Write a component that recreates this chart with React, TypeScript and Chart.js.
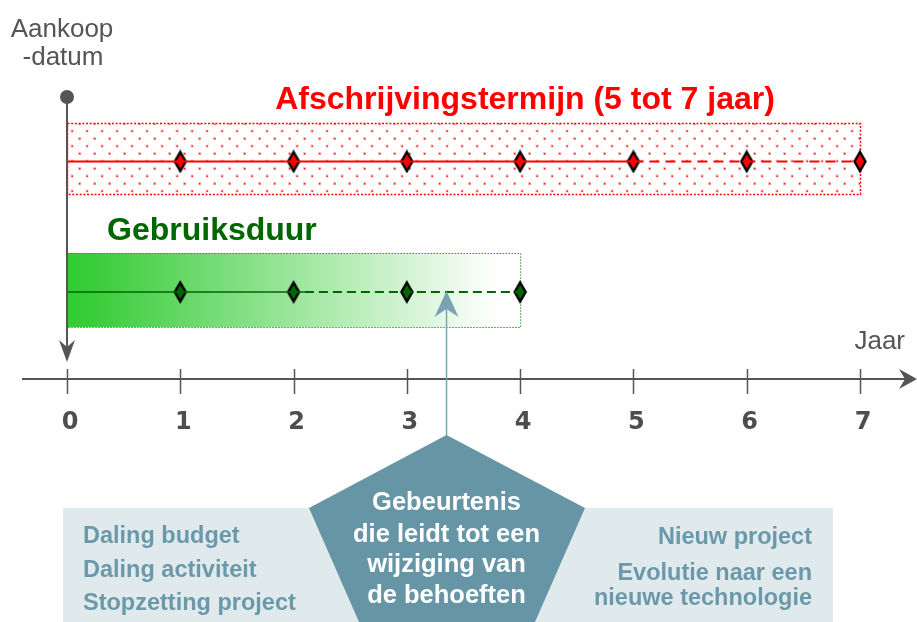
import React, { useEffect, useRef } from "react";
import { Chart, registerables } from "chart.js";
Chart.register(...registerables);

// ---- data ----
const TICK_YEARS = [0, 1, 2, 3, 4, 5, 6, 7];
const TICK_LABELS = ["0", "1", "2", "3", "4", "5", "6", "7"];
const DEPRECIATION_SOLID = [0, 5];
const DEPRECIATION_DASHED = [5, 7];
const DEPRECIATION_MARKERS = [1, 2, 3, 4, 5, 6, 7];
const DEPRECIATION_BOX = [0, 7];
const USEFUL_SOLID = [0, 2.1];
const USEFUL_DASHED = [2.1, 4];
const USEFUL_MARKERS = [1, 2, 3, 4];
const USEFUL_BOX = [0, 4];
const EVENT_YEAR = 3.35;
const LANE_AXIS = 0;
const LANE_USEFUL = 1;
const LANE_DEPRECIATION = 2.5;

const TITLE_DEPRECIATION = "Afschrijvingstermijn (5 tot 7 jaar)";
const TITLE_USEFUL = "Gebruiksduur";
const START_LABEL = ["Aankoop", "-datum"];
const AXIS_LABEL = "Jaar";
const EVENT_LABEL = ["Gebeurtenis", "die leidt tot een", "wijziging van", "de behoeften"];
const DECREASE_CAUSES = ["Daling budget", "Daling activiteit", "Stopzetting project"];
const CHANGE_CAUSES = ["Nieuw project", "Evolutie naar een", "nieuwe technologie"];

const FONT = "'Liberation Sans', Arial, sans-serif";
const GRAY = "#555555";
const RED = "#ff0000";
const DKGREEN = "#006600";
const TEAL = "#6696a6";
const TEAL_TEXT = "#6b99aa";
const PANEL = "#e0eaed";

function diamond(fill: string) {
  const c = document.createElement("canvas");
  c.width = 16;
  c.height = 24;
  const g = c.getContext("2d")!;
  g.beginPath();
  g.moveTo(8, 2.5);
  g.lineTo(13.5, 12);
  g.lineTo(8, 21.5);
  g.lineTo(2.5, 12);
  g.closePath();
  g.fillStyle = fill;
  g.fill();
  g.lineWidth = 2.4;
  g.strokeStyle = "#000";
  g.stroke();
  return c;
}

function dotPattern(ctx: CanvasRenderingContext2D) {
  const p = document.createElement("canvas");
  p.width = 15;
  p.height = 15;
  const g = p.getContext("2d")!;
  g.fillStyle = "rgba(255,0,0,0.25)";
  g.fillRect(3, 2, 3, 3);
  g.fillRect(10.5, 9.5, 3, 3);
  g.fillStyle = "rgba(255,0,0,0.8)";
  g.fillRect(4, 3, 1.5, 1.5);
  g.fillRect(11.5, 10.5, 1.5, 1.5);
  return ctx.createPattern(p, "repeat")!;
}

function stealth(ctx: CanvasRenderingContext2D, tx: number, ty: number, dx: number, dy: number, len: number, hw: number, notch: number, color: string) {
  const nx = -dy, ny = dx;
  const bx = tx - dx * len, by = ty - dy * len;
  ctx.beginPath();
  ctx.moveTo(tx, ty);
  ctx.lineTo(bx + nx * hw, by + ny * hw);
  ctx.lineTo(tx - dx * (len - notch), ty - dy * (len - notch));
  ctx.lineTo(bx - nx * hw, by - ny * hw);
  ctx.closePath();
  ctx.fillStyle = color;
  ctx.fill();
}

const diagramPlugin = {
  id: "diagram",
  beforeDatasetsDraw(chart: any) {
    const { ctx, scales } = chart;
    const px = (v: number) => scales.x.getPixelForValue(v);
    const py = (v: number) => scales.y.getPixelForValue(v);
    ctx.save();
    // red depreciation box
    const rl = px(DEPRECIATION_BOX[0]), rr = px(DEPRECIATION_BOX[1]);
    const rc = py(LANE_DEPRECIATION);
    const rt = rc - 38, rb = rc + 33;
    ctx.fillStyle = dotPattern(ctx);
    ctx.fillRect(rl, rt, rr - rl, rb - rt);
    ctx.setLineDash([2, 1.7]);
    ctx.lineWidth = 1.5;
    ctx.strokeStyle = RED;
    ctx.strokeRect(rl + 0.5, rt, rr - rl, rb - rt);
    // green useful box
    const gl = px(USEFUL_BOX[0]), gr = px(USEFUL_BOX[1]);
    const gc = py(LANE_USEFUL);
    const gt = gc - 39, gb = gc + 35;
    const grad = ctx.createLinearGradient(gl, 0, gr, 0);
    grad.addColorStop(0, "#33cc33");
    grad.addColorStop(0.04, "#36cc36");
    grad.addColorStop(0.95, "#ffffff");
    grad.addColorStop(1, "#ffffff");
    ctx.fillStyle = grad;
    ctx.fillRect(gl, gt, gr - gl, gb - gt);
    ctx.setLineDash([1.5, 1.5]);
    ctx.lineWidth = 1;
    ctx.strokeStyle = "#2f9a2f";
    ctx.strokeRect(gl + 0.5, gt + 0.5, gr - gl, gb - gt);
    ctx.setLineDash([]);
    ctx.restore();
  },
  afterDatasetsDraw(chart: any) {
    const { ctx, scales } = chart;
    const px = (v: number) => scales.x.getPixelForValue(v);
    const py = (v: number) => scales.y.getPixelForValue(v);
    ctx.save();
    const x0 = px(0);
    const ay = py(LANE_AXIS);

    // start vertical line with dot and arrow
    ctx.strokeStyle = GRAY;
    ctx.lineWidth = 2;
    ctx.beginPath();
    ctx.moveTo(x0, 97);
    ctx.lineTo(x0, 350);
    ctx.stroke();
    ctx.beginPath();
    ctx.arc(x0, 97, 7, 0, Math.PI * 2);
    ctx.fillStyle = GRAY;
    ctx.fill();
    stealth(ctx, x0, ay - 17, 0, 1, 22, 8, 7, GRAY);

    // axis
    ctx.beginPath();
    ctx.moveTo(22, ay);
    ctx.lineTo(905, ay);
    ctx.stroke();
    stealth(ctx, 917, ay, 1, 0, 18, 10, 6, GRAY);
    ctx.lineWidth = 1.5;
    TICK_YEARS.forEach((v) => {
      const tx = Math.round(px(v)) + 0.5;
      ctx.beginPath();
      ctx.moveTo(tx, ay - 10);
      ctx.lineTo(tx, ay + 15);
      ctx.stroke();
    });
    ctx.fillStyle = "#4d4d4d";
    ctx.font = `bold 24px 'DejaVu Sans', Verdana, sans-serif`;
    ctx.textAlign = "center";
    ctx.textBaseline = "alphabetic";
    TICK_YEARS.forEach((v, i) => ctx.fillText(TICK_LABELS[i], px(v) + 3, ay + 50));

    // labels
    ctx.fillStyle = GRAY;
    ctx.font = `26px ${FONT}`;
    ctx.fillText(START_LABEL[0], 62, 37);
    ctx.fillText(START_LABEL[1], 63, 65);
    ctx.textAlign = "right";
    ctx.fillText(AXIS_LABEL, 905, 349);

    ctx.textAlign = "center";
    ctx.font = `bold 32px ${FONT}`;
    ctx.fillStyle = RED;
    ctx.fillText(TITLE_DEPRECIATION, 525, 109);
    ctx.textAlign = "left";
    ctx.fillStyle = DKGREEN;
    ctx.fillText(TITLE_USEFUL, 107, 240);

    // bottom panel
    ctx.fillStyle = PANEL;
    ctx.fillRect(63, 508, 770, 114);
    const ex = px(EVENT_YEAR);
    ctx.beginPath();
    ctx.moveTo(ex, 435);
    ctx.lineTo(585, 508);
    ctx.lineTo(535, 622);
    ctx.lineTo(359, 622);
    ctx.lineTo(309, 508);
    ctx.closePath();
    ctx.fillStyle = TEAL;
    ctx.fill();

    // event arrow
    ctx.strokeStyle = "#7aa3b2";
    ctx.lineWidth = 1.5;
    ctx.beginPath();
    ctx.moveTo(ex, 436);
    ctx.lineTo(ex, 305);
    ctx.stroke();
    stealth(ctx, ex, py(LANE_USEFUL) - 1, 0, -1, 26, 12, 8, "#7aa3b2");

    // texts in panel
    ctx.font = `bold 23.5px ${FONT}`;
    ctx.fillStyle = TEAL_TEXT;
    ctx.textAlign = "left";
    [543, 577, 610].forEach((yy, i) => ctx.fillText(DECREASE_CAUSES[i], 83, yy));
    ctx.textAlign = "right";
    [544, 580, 605].forEach((yy, i) => ctx.fillText(CHANGE_CAUSES[i], 812, yy));
    ctx.textAlign = "center";
    ctx.fillStyle = "#ffffff";
    ctx.font = `bold 25.5px ${FONT}`;
    [510, 542, 572, 603].forEach((yy, i) => ctx.fillText(EVENT_LABEL[i], ex, yy));
    ctx.restore();
  },
};

export default function App() {
  const ref = useRef<HTMLCanvasElement>(null);
  useEffect(() => {
    const redD = diamond(RED);
    const greenD = diamond(DKGREEN);
    const pts = (xs: number[], lane: number) => xs.map((x) => ({ x, y: lane }));
    const chart = new Chart(ref.current!, {
      type: "line",
      data: {
        datasets: [
          { data: pts(DEPRECIATION_SOLID, LANE_DEPRECIATION), borderColor: RED, borderWidth: 2, pointRadius: 0 },
          { data: pts(DEPRECIATION_DASHED, LANE_DEPRECIATION), borderColor: RED, borderWidth: 2, borderDash: [10, 6], pointRadius: 0 },
          { data: pts(USEFUL_SOLID, LANE_USEFUL), borderColor: DKGREEN, borderWidth: 1.5, pointRadius: 0 },
          { data: pts(USEFUL_DASHED, LANE_USEFUL), borderColor: DKGREEN, borderWidth: 2, borderDash: [9, 5], pointRadius: 0 },
          { data: pts(DEPRECIATION_MARKERS, LANE_DEPRECIATION), showLine: false, pointStyle: redD as any, pointRadius: 10 },
          { data: pts(USEFUL_MARKERS, LANE_USEFUL), showLine: false, pointStyle: greenD as any, pointRadius: 10 },
        ],
      },
      options: {
        responsive: false,
        animation: false,
        devicePixelRatio: 1,
        layout: { padding: 0, autoPadding: false } as any,
        plugins: { legend: { display: false }, tooltip: { enabled: false } },
        events: [],
        scales: {
          x: { type: "linear", display: false, min: -0.5914, max: 7.5032 },
          y: { type: "linear", display: false, min: -2.793, max: 4.356 },
        },
        elements: { line: { tension: 0 } },
      } as any,
      plugins: [diagramPlugin],
    });
    return () => chart.destroy();
  }, []);
  return (
    <div style={{ position: "absolute", left: 0, top: 0, width: 917, height: 622, background: "#fff" }}>
      <canvas ref={ref} width={917} height={622} />
    </div>
  );
}
